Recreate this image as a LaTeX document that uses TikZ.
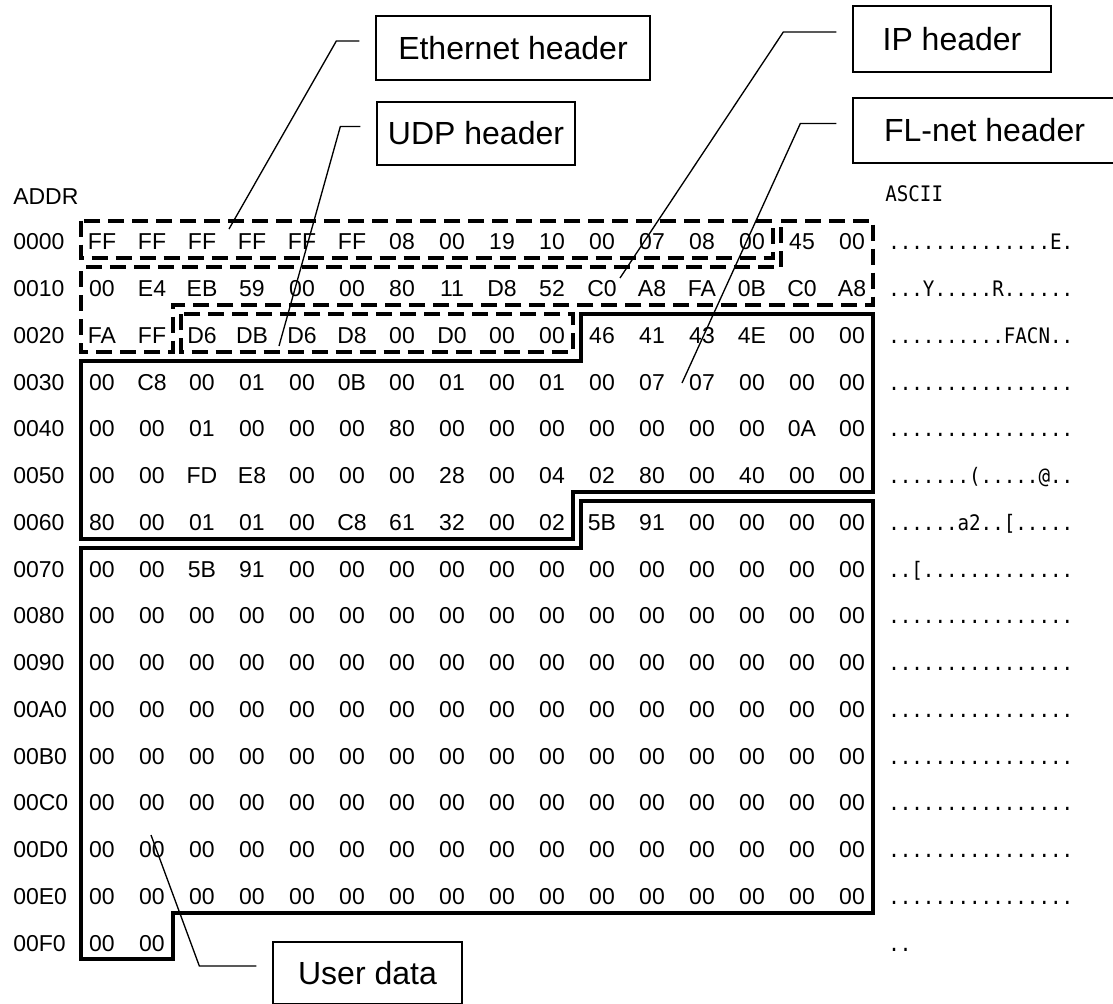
\documentclass[tikz,border=0pt]{standalone}
\usepackage{fontspec}
\setmainfont{Liberation Sans}
\newfontfamily\asciifont[FakeStretch=0.9]{DejaVu Sans Mono}
\usetikzlibrary{calc}
\definecolor{ink}{HTML}{000000}
\tikzset{
  every node/.style={font=\fontsize{17.25}{20}\selectfont, text=ink, inner sep=0pt},
  hexbyte/.style={anchor=center},
  addr/.style={anchor=west},
  asc/.style={anchor=base west, font=\asciifont\fontsize{16}{19}\selectfont},
  tagbox/.style={draw=ink, line width=1pt, font=\fontsize{24}{28}\selectfont, align=center},
  leader/.style={draw=ink, line width=1pt},
  hdrdash/.style={draw=ink, line width=3pt, dash pattern=on 12pt off 6pt},
  hdrsolid/.style={draw=ink, line width=3pt},
}

\begin{document}
\begin{tikzpicture}[x=0.75pt, y=-0.75pt]
\useasboundingbox[fill=white] (0,0) rectangle (1113,1003);

% --- column titles ---
\node[addr] (addrtitle) at (13,197) {ADDR};
\node[asc] (asctitle) at (885,201.8) {ASCII};

% --- dump: address / 16 bytes / ascii ---
\foreach \addr/\bytes/\txt [count=\i from 0] in {
  0000/{FF,FF,FF,FF,FF,FF,08,00,19,10,00,07,08,00,45,00}/{..............E.},
  0010/{00,E4,EB,59,00,00,80,11,D8,52,C0,A8,FA,0B,C0,A8}/{...Y.....R......},
  0020/{FA,FF,D6,DB,D6,D8,00,D0,00,00,46,41,43,4E,00,00}/{..........FACN..},
  0030/{00,C8,00,01,00,0B,00,01,00,01,00,07,07,00,00,00}/{................},
  0040/{00,00,01,00,00,00,80,00,00,00,00,00,00,00,0A,00}/{................},
  0050/{00,00,FD,E8,00,00,00,28,00,04,02,80,00,40,00,00}/{.......(.....@..},
  0060/{80,00,01,01,00,C8,61,32,00,02,5B,91,00,00,00,00}/{......a2..[.....},
  0070/{00,00,5B,91,00,00,00,00,00,00,00,00,00,00,00,00}/{..[.............},
  0080/{00,00,00,00,00,00,00,00,00,00,00,00,00,00,00,00}/{................},
  0090/{00,00,00,00,00,00,00,00,00,00,00,00,00,00,00,00}/{................},
  00A0/{00,00,00,00,00,00,00,00,00,00,00,00,00,00,00,00}/{................},
  00B0/{00,00,00,00,00,00,00,00,00,00,00,00,00,00,00,00}/{................},
  00C0/{00,00,00,00,00,00,00,00,00,00,00,00,00,00,00,00}/{................},
  00D0/{00,00,00,00,00,00,00,00,00,00,00,00,00,00,00,00}/{................},
  00E0/{00,00,00,00,00,00,00,00,00,00,00,00,00,00,00,00}/{................},
  00F0/{00,00}/{..}%
}{
  \node[addr] (a\i) at (13,{242+46.75*\i}) {\addr};
  \foreach \b [count=\j from 0] in \bytes
    \node[hexbyte] (b\i-\j) at ({102+50*\j},{242+46.75*\i}) {\b};
  \node[asc] (t\i) at (888,{249.8+46.75*\i}) {\txt};
}

% --- header outlines ---
\draw[hdrdash] (81,220.5) rectangle (773,258); % Ethernet
\draw[hdrdash] (781,220.5) -- (873,220.5) -- (873,304.75) -- (173,304.75)
  -- (173,351.5) -- (81,351.5) -- (81,267.25) -- (781,267.25) -- cycle; % IP
\draw[hdrdash] (181,314) rectangle (573,351.5); % UDP
\draw[hdrsolid] (581,314) -- (873,314) -- (873,491.75) -- (573,491.75)
  -- (573,538.5) -- (81,538.5) -- (81,360.75) -- (581,360.75) -- cycle; % FL-net
\draw[hdrsolid] (581,501) -- (873,501) -- (873,912.5) -- (173,912.5)
  -- (173,959.25) -- (81,959.25) -- (81,547.75) -- (581,547.75) -- cycle; % user data

% --- tag boxes ---
\node[tagbox, minimum width=205.5pt, minimum height=48pt] (eth) at (513,48) {Ethernet header};
\node[tagbox, minimum width=148.5pt, minimum height=47.25pt] (udp) at (476,133.5) {UDP header};
\node[tagbox, minimum width=148.5pt, minimum height=49.5pt] (ip) at (952,39) {IP header};
\node[tagbox, minimum width=197.25pt, minimum height=48.75pt] (fl) at (984.5,130.5) {FL-net header};
\node[tagbox, minimum width=141.75pt, minimum height=46.5pt] (usr) at (367.5,973) {User data};

% --- leaders ---
\coordinate (ethtip) at (229,229);
\coordinate (udptip) at (279,346);
\coordinate (iptip) at (620,278);
\coordinate (fltip) at (682,383);
\coordinate (usrtip) at (151,835);
\draw[leader] ($(eth.west)+(-16,-7)$) -- ($(eth.west)+(-39,-7)$) -- (ethtip);
\draw[leader] ($(udp.west)+(-16,-7)$) -- ($(udp.west)+(-36,-7)$) -- (udptip);
\draw[leader] ($(ip.west)+(-16,-7)$) -- ($(ip.west)+(-69,-7)$) -- (iptip);
\draw[leader] ($(fl.west)+(-16,-7)$) -- ($(fl.west)+(-52,-7)$) -- (fltip);
\draw[leader] ($(usr.west)+(-16,-7)$) -- ($(usr.west)+(-73,-7)$) -- (usrtip);

\end{tikzpicture}
\end{document}
